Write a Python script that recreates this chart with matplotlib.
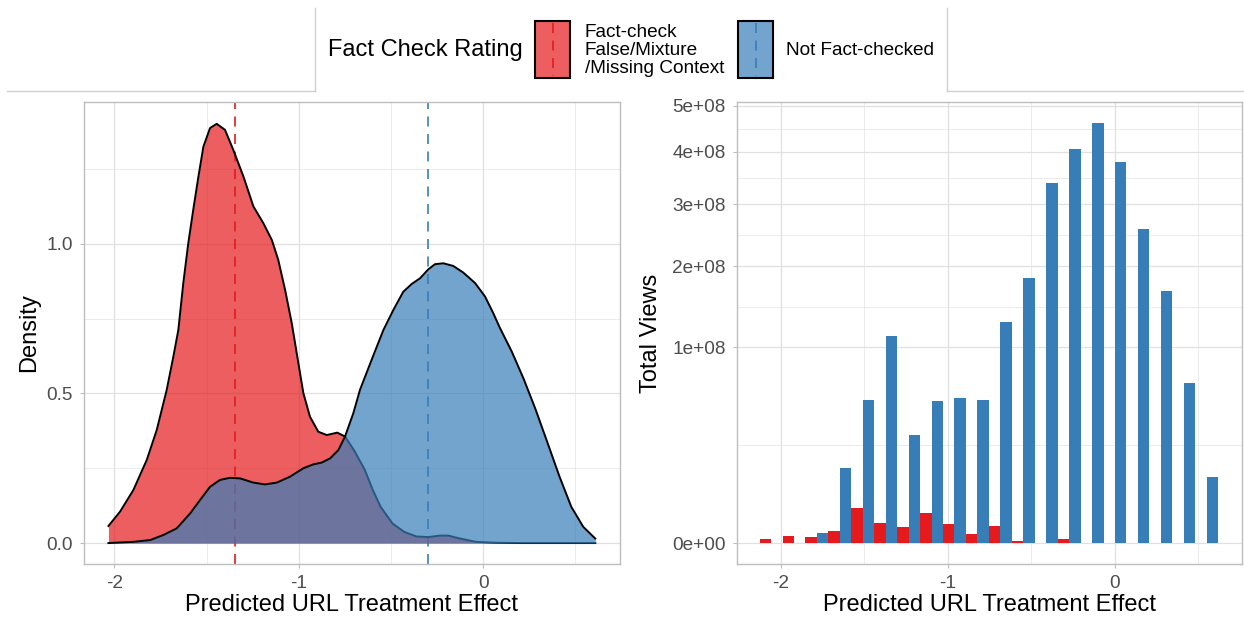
import numpy as np
import matplotlib
matplotlib.use("Agg")
import matplotlib.pyplot as plt
from matplotlib.patches import Rectangle

plt.rcParams['font.family'] = ['Liberation Sans', 'DejaVu Sans']

# density curves (x, density) for both groups
red_x = [-2.032, -1.969, -1.897, -1.824, -1.770, -1.716, -1.680, -1.653, -1.626, -1.599,
         -1.572, -1.544, -1.517, -1.481, -1.445, -1.400, -1.355, -1.300, -1.246, -1.192,
         -1.146, -1.111, -1.074, -1.038, -1.002, -0.975, -0.939, -0.894, -0.848, -0.791,
         -0.749, -0.700, -0.642, -0.599, -0.556, -0.491, -0.427, -0.362, -0.297, -0.233,
         -0.190, -0.125, -0.039, 0.069, 0.200, 0.400, 0.608]
red_y = [0.057, 0.105, 0.177, 0.278, 0.378, 0.512, 0.623, 0.712, 0.869, 1.002,
         1.114, 1.225, 1.325, 1.387, 1.401, 1.381, 1.314, 1.225, 1.125, 1.069,
         1.013, 0.946, 0.846, 0.735, 0.601, 0.501, 0.422, 0.372, 0.361, 0.369,
         0.356, 0.310, 0.245, 0.178, 0.121, 0.065, 0.037, 0.022, 0.020, 0.025,
         0.025, 0.015, 0.004, 0.001, 0.0, 0.0, 0.0]

blue_x = [-2.032, -1.897, -1.806, -1.734, -1.662, -1.589, -1.535, -1.481, -1.427, -1.373,
          -1.318, -1.246, -1.183, -1.119, -1.047, -0.975, -0.921, -0.875, -0.830, -0.785,
          -0.749, -0.704, -0.668, -0.600, -0.541, -0.487, -0.433, -0.387, -0.342, -0.297,
          -0.261, -0.216, -0.162, -0.108, -0.044, 0.010, 0.055, 0.090, 0.155, 0.220,
          0.284, 0.349, 0.414, 0.478, 0.543, 0.608]
blue_y = [0.0, 0.004, 0.010, 0.027, 0.049, 0.099, 0.144, 0.188, 0.211, 0.218,
          0.216, 0.202, 0.196, 0.202, 0.222, 0.250, 0.263, 0.269, 0.283, 0.311,
          0.356, 0.434, 0.512, 0.620, 0.712, 0.779, 0.840, 0.866, 0.885, 0.915,
          0.932, 0.935, 0.926, 0.904, 0.869, 0.824, 0.768, 0.720, 0.640, 0.548,
          0.447, 0.335, 0.222, 0.121, 0.054, 0.015]

red_mean = -1.343
blue_mean = -0.297

# binned total views
bin_centers = [-2.059, -1.922, -1.785, -1.647, -1.510, -1.373, -1.236, -1.098, -0.961, -0.824,
               -0.686, -0.549, -0.412, -0.275, -0.137, 0.000, 0.137, 0.275, 0.412, 0.549]
red_views = [3.5e4, 1.3e5, 8.4e4, 3.5e5, 3.2e6, 1.1e6, 6.9e5, 2.3e6, 9.1e5, 2.0e5,
             7.8e5, 1.0e4, 0, 4.9e4, 0, 0, 0, 0, 0, 0]
blue_views = [0, 0, 2.4e5, 1.47e7, 5.38e7, 1.12e8, 3.03e7, 5.28e7, 5.48e7, 5.38e7,
              1.283e8, 1.84e8, 3.39e8, 4.06e8, 4.61e8, 3.80e8, 2.57e8, 1.66e8, 6.7e7, 1.13e7]
binwidth = 0.1373

view_ticks = [0, 1e8, 2e8, 3e8, 4e8, 5e8]
view_labels = ['0e+00', '1e+08', '2e+08', '3e+08', '4e+08', '5e+08']

legend_title = 'Fact Check Rating'
legend_labels = ['Fact-check\nFalse/Mixture\n/Missing Context', 'Not Fact-checked']

RED = '#E41A1C'
BLUE = '#377EB8'
GRID = '#E0E0E0'
BORDER = '#BDBDBD'
TICKTXT = '#4D4D4D'
DASH = (0, (6, 4.5))


def style_axes(ax):
    for s in ax.spines.values():
        s.set_color(BORDER)
        s.set_linewidth(1.0)
    ax.grid(True, which='major', color=GRID, lw=0.9)
    ax.grid(True, which='minor', color=GRID, lw=0.45)
    ax.set_axisbelow(True)
    ax.tick_params(which='major', length=3, width=0.8, color=BORDER,
                   labelsize=13.7, labelcolor=TICKTXT, pad=5)
    ax.tick_params(which='minor', length=0)


fig = plt.figure(figsize=(12.44, 6.17), dpi=100)

# left: density plot
ax1 = fig.add_axes([0.0676, 0.0859, 0.4305, 0.7488])
ax1.axvline(red_mean, color=RED, lw=1.2, ls=DASH, zorder=1)
ax1.axvline(blue_mean, color=BLUE, lw=1.2, ls=DASH, zorder=1)
ax1.fill_between(red_x, red_y, 0, color=RED, alpha=0.7, lw=0, zorder=2)
ax1.plot(red_x, red_y, color='black', lw=1.4, zorder=2.1)
ax1.fill_between(blue_x, blue_y, 0, color=BLUE, alpha=0.7, lw=0, zorder=3)
ax1.plot(blue_x, blue_y, color='black', lw=1.4, zorder=3.1)
ax1.set_xlim(-2.164, 0.740)
ax1.set_ylim(-0.07, 1.474)
ax1.set_xticks([-2, -1, 0])
ax1.set_xticklabels(['-2', '-1', '0'])
ax1.set_xticks([-1.5, -0.5, 0.5], minor=True)
ax1.set_yticks([0, 0.5, 1.0])
ax1.set_yticklabels(['0.0', '0.5', '1.0'])
ax1.set_yticks([0.25, 0.75, 1.25], minor=True)
style_axes(ax1)
ax1.set_xlabel('Predicted URL Treatment Effect', fontsize=17)
ax1.set_ylabel('Density', fontsize=17)
ax1.xaxis.set_label_coords(0.5, -0.066)
ax1.yaxis.set_label_coords(-0.082, 0.5)

# right: total views per bin on a square-root axis
ax2 = fig.add_axes([0.5925, 0.0859, 0.4058, 0.7488])
ax2.set_yscale('function', functions=(lambda v: np.sign(v) * np.sqrt(np.abs(v)),
                                      lambda s: np.sign(s) * s ** 2))
ax2.bar(bin_centers, red_views, width=-binwidth / 2, align='edge', color=RED, lw=0, zorder=2)
ax2.bar(bin_centers, blue_views, width=binwidth / 2, align='edge', color=BLUE, lw=0, zorder=2)
ax2.set_xlim(-2.263, 0.760)
ax2.set_ylim(-(0.107e4) ** 2, (2.255e4) ** 2)
ax2.set_xticks([-2, -1, 0])
ax2.set_xticklabels(['-2', '-1', '0'])
ax2.set_xticks([-1.5, -0.5, 0.5], minor=True)
ax2.set_yticks(view_ticks)
ax2.set_yticklabels(view_labels)
# minor grid halfway between major breaks in sqrt space
roots = np.sqrt(np.array(view_ticks) / 1e8)
ax2.set_yticks(((roots[:-1] + roots[1:]) / 2) ** 2 * 1e8, minor=True)
style_axes(ax2)
ax2.set_xlabel('Predicted URL Treatment Effect', fontsize=17)
ax2.set_ylabel('Total Views', fontsize=17)
ax2.xaxis.set_label_coords(0.5, -0.066)
ax2.yaxis.set_label_coords(-0.149, 0.5)

# legend strip on top, drawn in pixel coordinates
lg = fig.add_axes([0, 0, 1, 1], zorder=5)
lg.set_xlim(0, 1244)
lg.set_ylim(617, 0)
lg.axis('off')
lg.patch.set_alpha(0)

frame = dict(color='#CFCFCF', lw=1.0)
lg.plot([7, 315], [90.5, 90.5], **frame)
lg.plot([315, 315], [8, 90.5], **frame)
lg.plot([947, 947], [8, 90.5], **frame)
lg.plot([947, 1244], [90.5, 90.5], **frame)

lg.text(328, 50, legend_title, fontsize=17, va='center', ha='left')
for x0, col, label, tx in [(535, RED, legend_labels[0], 585), (738, BLUE, legend_labels[1], 786)]:
    lg.add_patch(Rectangle((x0, 21), 35, 57, facecolor=col, alpha=0.7, lw=0))
    lg.plot([x0 + 17.5, x0 + 17.5], [23, 76], color=col, lw=1.2, ls=DASH)
    lg.add_patch(Rectangle((x0, 21), 35, 57, facecolor='none', edgecolor='black', lw=1.5))
    lg.text(tx, 50.5, label, fontsize=13.7, va='center', ha='left', linespacing=1.1)

fig.savefig('out.png', dpi=100)
